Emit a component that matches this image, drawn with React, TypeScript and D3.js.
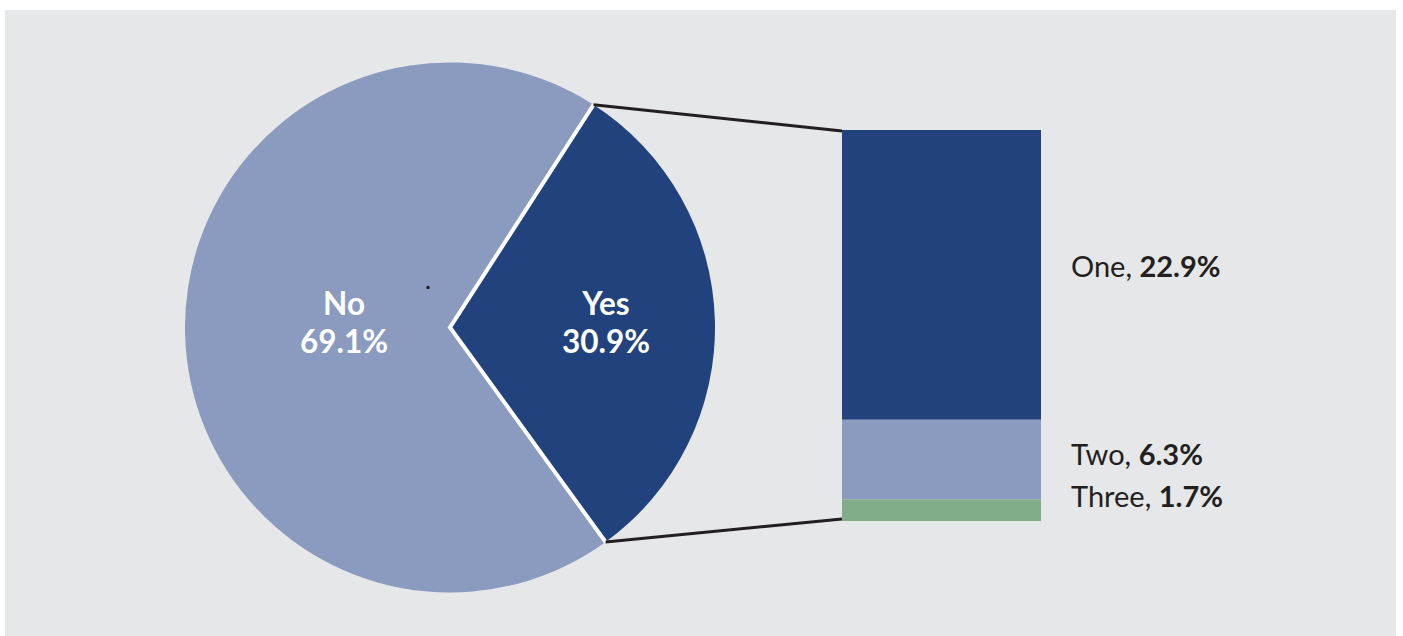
import React from "react";
import * as d3 from "d3";

const pieCategories = ["Yes", "No"];
const pieValues = [30.9, 69.1];
const pieColors = ["#21427C", "#8A9BBF"];

const barCategories = ["One", "Two", "Three"];
const barValues = [22.9, 6.3, 1.7];
const barColors = ["#21427C", "#8A9BBF", "#80AD87"];

const W = 1403;
const H = 636;
const CX = 450;
const CY = 327.5;
const R = 265;
const START_DEG = 32.8;

export default function App() {
  const pie = d3
    .pie<number>()
    .sort(null)
    .value((d) => d)
    .startAngle((START_DEG * Math.PI) / 180)
    .endAngle((START_DEG * Math.PI) / 180 + 2 * Math.PI);
  const arcs = pie(pieValues);
  const arcGen = d3.arc<d3.PieArcDatum<number>>().innerRadius(0).outerRadius(R);

  const pt = (a: number, r: number) => [CX + r * Math.sin(a), CY - r * Math.cos(a)];

  const yes = arcs[0];
  const pTop = pt(yes.startAngle, R);
  const pBot = pt(yes.endAngle, R);

  const total = d3.sum(barValues);
  const barX = 842;
  const barW = 199;
  const y = d3.scaleLinear().domain([0, total]).range([130, 521]);
  let acc = 0;
  const segs = barValues.map((v, i) => {
    const s = { y0: y(acc), y1: y(acc + v), v, i };
    acc += v;
    return s;
  });

  const labelRadius = [156, 106];
  const labelYBar = [277, 465, 507];

  return (
    <svg
      width={W}
      height={H}
      style={{ position: "absolute", left: 0, top: 0, display: "block" }}
      fontFamily="Lato, sans-serif"
    >
      <rect x={0} y={0} width={W} height={H} fill="#FFFFFF" />
      <rect x={5} y={10} width={1391} height={626} fill="#E6E7E8" />
      <g transform={`translate(${CX},${CY})`}>
        {arcs.map((a, i) => (
          <path key={i} d={arcGen(a) || ""} fill={pieColors[i]} />
        ))}
      </g>
      <polyline
        points={`${pTop[0]},${pTop[1]} ${CX},${CY} ${pBot[0]},${pBot[1]}`}
        fill="none"
        stroke="#FFFFFF"
        strokeWidth={4}
        strokeLinejoin="miter"
      />
      <circle cx={428} cy={287.5} r={1.7} fill="#231F20" />
      {arcs.map((a, i) => {
        const mid = (a.startAngle + a.endAngle) / 2;
        const [lx] = pt(mid, labelRadius[i]);
        return (
          <text key={i} x={lx} textAnchor="middle" fill="#FFFFFF" fontWeight={700} fontSize={31.5}>
            <tspan x={lx} y={315}>{pieCategories[i]}</tspan>
            <tspan x={lx} y={353}>{d3.format(".1f")(pieValues[i])}%</tspan>
          </text>
        );
      })}
      {segs.map((s) => (
        <rect key={s.i} x={barX} y={s.y0} width={barW} height={s.y1 - s.y0} fill={barColors[s.i]} />
      ))}
      <line x1={pTop[0]} y1={pTop[1]} x2={barX} y2={y(0) + 1} stroke="#231F20" strokeWidth={3} />
      <line x1={pBot[0]} y1={pBot[1]} x2={barX} y2={y(total) - 2} stroke="#231F20" strokeWidth={3} />
      {barCategories.map((c, i) => (
        <text key={c} x={1071} y={labelYBar[i]} fontSize={29} fill="#231F20">
          {c}, <tspan fontWeight={700}>{d3.format(".1f")(barValues[i])}%</tspan>
        </text>
      ))}
    </svg>
  );
}
